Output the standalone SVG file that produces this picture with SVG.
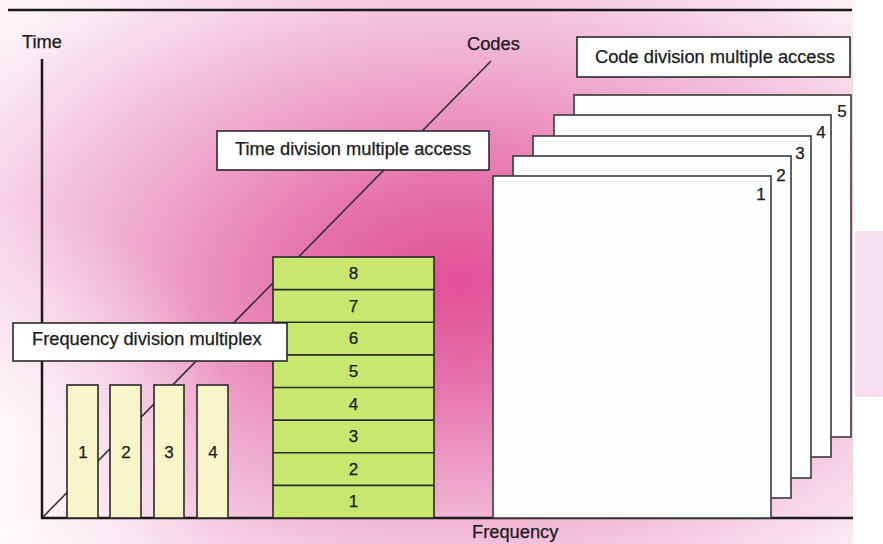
<svg xmlns="http://www.w3.org/2000/svg" width="883" height="544" viewBox="0 0 883 544">
  <defs>
    <radialGradient id="wash" cx="0.54" cy="0.52" r="0.7">
      <stop offset="0" stop-color="#e14f98"/>
      <stop offset="0.25" stop-color="#e570ab"/>
      <stop offset="0.55" stop-color="#efa8cd"/>
      <stop offset="0.85" stop-color="#f8dbeb"/>
      <stop offset="1" stop-color="#fdf3f8"/>
    </radialGradient>
    <!-- soft white glow on the lower left -->
    <radialGradient id="leftFade" gradientUnits="userSpaceOnUse" cx="0" cy="430" r="230">
      <stop offset="0" stop-color="#ffffff" stop-opacity="0.8"/>
      <stop offset="0.6" stop-color="#ffffff" stop-opacity="0.35"/>
      <stop offset="1" stop-color="#ffffff" stop-opacity="0"/>
    </radialGradient>
    <style>
      text { font-family: "Liberation Sans", Arial, sans-serif; fill: #1a1a1a; stroke: #1a1a1a; stroke-width: 0.25; }
      .lbl { font-size: 18.3px; }
      .num { font-size: 17px; text-anchor: middle; }
      .axis { stroke: #1a1a1a; stroke-width: 2.5; fill: none; }
      .box { fill: #ffffff; stroke: #2a2a2a; stroke-width: 1.6; }
      .bar { fill: #f7f5c9; stroke: #2a2a2a; stroke-width: 1.6; }
      .slot { fill: #c9e66e; stroke: #2a2a2a; stroke-width: 1.6; }
      .card { fill: #fcfdfe; stroke: #3a3a3a; stroke-width: 1.6; }
      .diag { stroke: #2a2a2a; stroke-width: 1.5; fill: none; }
    </style>
  </defs>

  <!-- background -->
  <rect x="0" y="0" width="883" height="544" fill="#ffffff"/>
  <rect x="0" y="0" width="853" height="544" fill="url(#wash)"/>
  <rect x="0" y="0" width="853" height="544" fill="url(#leftFade)"/>
  <rect x="855" y="231" width="28" height="166" fill="#f7dff0"/>

  <!-- connectors: rule, axes and the code axis -->
  <g id="connectors">
    <line class="axis" x1="8" y1="10" x2="852" y2="10"/>
    <line class="diag" x1="42" y1="518" x2="491" y2="61"/>
    <line class="axis" x1="42" y1="59" x2="42" y2="519"/>
    <line class="axis" x1="41" y1="518" x2="853" y2="518"/>
  </g>

  <g id="axis-labels">
    <text class="lbl" x="22" y="48">Time</text>
    <text class="lbl" x="467" y="50">Codes</text>
    <text class="lbl" x="472" y="538">Frequency</text>
  </g>

  <!-- frequency division bands -->
  <g id="fdm-bands">
    <rect class="bar" x="67" y="385" width="31" height="133"/>
    <rect class="bar" x="110" y="385" width="31" height="133"/>
    <rect class="bar" x="154" y="385" width="30" height="133"/>
    <rect class="bar" x="197" y="385" width="31" height="133"/>
    <text class="num" x="83" y="458">1</text>
    <text class="num" x="126" y="458">2</text>
    <text class="num" x="169" y="458">3</text>
    <text class="num" x="213" y="458">4</text>
  </g>

  <!-- time division slots -->
  <g id="tdma-slots">
    <rect class="slot" x="273" y="257" width="161" height="261"/>
    <line class="slot" x1="273" y1="289.6" x2="434" y2="289.6"/>
    <line class="slot" x1="273" y1="322.2" x2="434" y2="322.2"/>
    <line class="slot" x1="273" y1="354.9" x2="434" y2="354.9"/>
    <line class="slot" x1="273" y1="387.5" x2="434" y2="387.5"/>
    <line class="slot" x1="273" y1="420.1" x2="434" y2="420.1"/>
    <line class="slot" x1="273" y1="452.7" x2="434" y2="452.7"/>
    <line class="slot" x1="273" y1="485.4" x2="434" y2="485.4"/>
    <text class="num" x="353.5" y="279">8</text>
    <text class="num" x="353.5" y="312">7</text>
    <text class="num" x="353.5" y="344">6</text>
    <text class="num" x="353.5" y="377">5</text>
    <text class="num" x="353.5" y="410">4</text>
    <text class="num" x="353.5" y="442">3</text>
    <text class="num" x="353.5" y="475">2</text>
    <text class="num" x="353.5" y="507">1</text>
  </g>

  <!-- code division layers, back to front -->
  <g id="cdma-layers">
    <rect class="card" x="574" y="95" width="277" height="342"/>
    <rect class="card" x="554" y="115" width="277" height="342"/>
    <rect class="card" x="533" y="136" width="278" height="342"/>
    <rect class="card" x="513" y="156" width="278" height="342"/>
    <rect class="card" x="493" y="176" width="278" height="342"/>
    <text class="num" x="842" y="117">5</text>
    <text class="num" x="821" y="138">4</text>
    <text class="num" x="800" y="159">3</text>
    <text class="num" x="781" y="181">2</text>
    <text class="num" x="761" y="200">1</text>
  </g>

  <!-- captions -->
  <g id="fdm-label">
    <rect class="box" x="13" y="323" width="274" height="38"/>
    <text class="lbl" x="32" y="345">Frequency division multiplex</text>
  </g>
  <g id="tdma-label">
    <rect class="box" x="217" y="131" width="272" height="39"/>
    <text class="lbl" x="235" y="155">Time division multiple access</text>
  </g>
  <g id="cdma-label">
    <rect class="box" x="577" y="37" width="273" height="40"/>
    <text class="lbl" x="595" y="63">Code division multiple access</text>
  </g>
</svg>
